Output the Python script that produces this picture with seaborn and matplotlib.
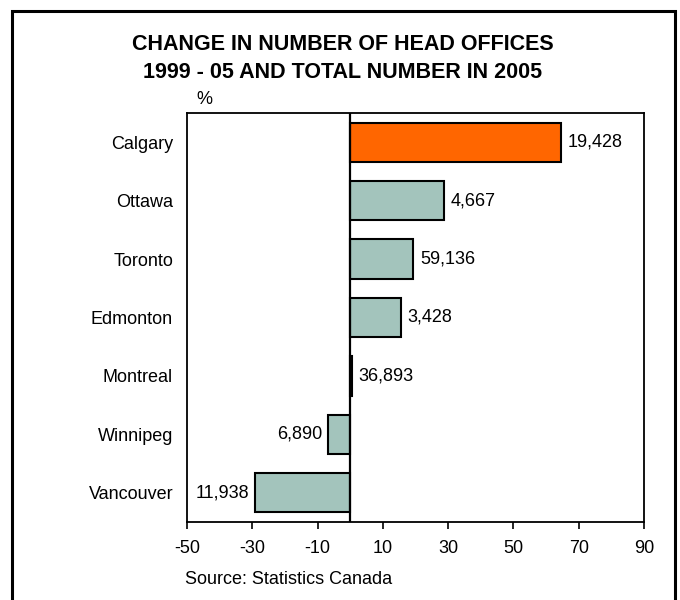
import matplotlib
matplotlib.use("Agg")
import matplotlib.pyplot as plt
from matplotlib.patches import Rectangle
import seaborn as sns
import pandas as pd

cities = ["Calgary", "Ottawa", "Toronto", "Edmonton", "Montreal", "Winnipeg", "Vancouver"]
pct_change = [64.6, 28.6, 19.3, 15.5, 0.5, -6.8, -29.1]
totals_2005 = ["19,428", "4,667", "59,136", "3,428", "36,893", "6,890", "11,938"]
bar_colors = ["#FF6600", "#A3C4BC", "#A3C4BC", "#A3C4BC", "#A3C4BC", "#A3C4BC", "#A3C4BC"]
x_ticks = [-50, -30, -10, 10, 30, 50, 70, 90]

df = pd.DataFrame({"city": cities, "change": pct_change})

sns.set_theme(style="white")
plt.rcParams["font.family"] = ["Liberation Sans", "DejaVu Sans"]
plt.rcParams["text.color"] = "black"
plt.rcParams["xtick.color"] = "black"
plt.rcParams["ytick.color"] = "black"

FS = 13

fig = plt.figure(figsize=(6.8, 6.0), dpi=100)
ax = fig.add_axes([187 / 680, 1 - 522 / 600, (644 - 187) / 680, (522 - 113) / 600])

sns.barplot(data=df, x="change", y="city", hue="city", palette=bar_colors,
            saturation=1, legend=False, orient="h", width=0.67,
            edgecolor="black", linewidth=1.5, ax=ax)

ax.axvline(0, color="black", lw=1.6, zorder=5)

ax.set_xlim(-50, 90)
ax.set_ylim(len(cities) - 0.5, -0.5)
ax.set_xticks(x_ticks)
ax.set_xticklabels([str(t) for t in x_ticks], fontsize=FS)
ax.tick_params(axis="x", direction="out", length=5, width=1.2, color="black",
               pad=8, bottom=True, labelcolor="black")
ax.tick_params(axis="y", length=0, pad=10, labelsize=FS, labelcolor="black")
ax.set_xlabel("")
ax.set_ylabel("")
for s in ax.spines.values():
    s.set_visible(True)
    s.set_color("black")
    s.set_linewidth(1.3)

# value labels: total head offices in 2005
for i, (v, lab) in enumerate(zip(pct_change, totals_2005)):
    if v >= 0:
        ax.annotate(lab, (v, i), xytext=(5, 0), textcoords="offset points",
                    ha="left", va="center", fontsize=FS, color="black")
    else:
        ax.annotate(lab, (v, i), xytext=(-4, 0), textcoords="offset points",
                    ha="right", va="center", fontsize=FS, color="black")

fig.text(343 / 680, 1 - 45 / 600, "CHANGE IN NUMBER OF HEAD OFFICES",
         ha="center", va="center", fontsize=15.5, fontweight="bold", color="black")
fig.text(343 / 680, 1 - 73 / 600, "1999 - 05 AND TOTAL NUMBER IN 2005",
         ha="center", va="center", fontsize=15.5, fontweight="bold", color="black")
fig.text(196 / 680, 1 - 100 / 600, "%", ha="left", va="center", fontsize=FS, color="black")
fig.text(185 / 680, 1 - 580 / 600, "Source: Statistics Canada",
         ha="left", va="center", fontsize=FS, color="black")

# outer frame around the chart
fig.patches.append(Rectangle((12 / 680, -0.05), (675 - 12) / 680, 1 - 11 / 600 + 0.05,
                             transform=fig.transFigure, fill=False,
                             edgecolor="black", lw=2.2))

fig.savefig("out.png", dpi=100, facecolor="white")
